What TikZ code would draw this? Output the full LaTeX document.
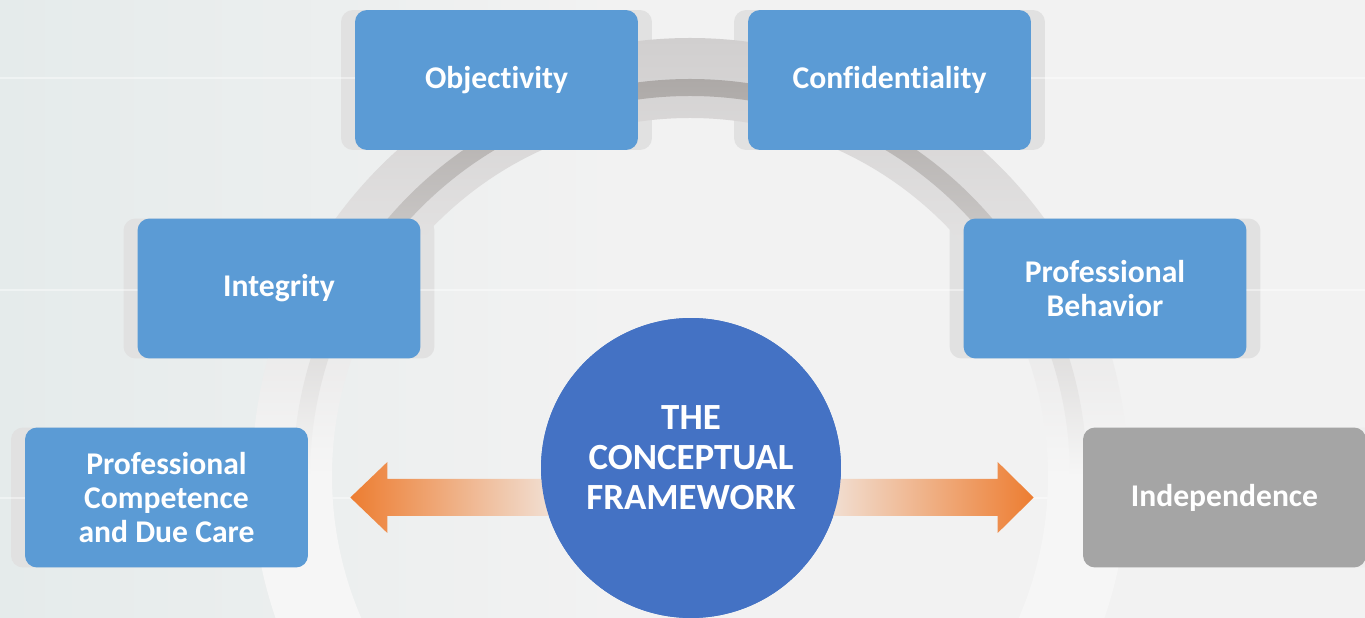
\documentclass[tikz,border=0pt]{standalone}
\usepackage{fontspec}
\setmainfont{Carlito}[Ligatures=NoCommon]
\usepackage{tikz}
\usetikzlibrary{calc}
\definecolor{bgcol}{HTML}{F2F2F2}
\definecolor{bgleft}{HTML}{E5EBEB}
\definecolor{boxblue}{HTML}{5B9BD5}
\definecolor{boxgray}{HTML}{A5A5A5}
\definecolor{hubblue}{HTML}{4472C4}
\definecolor{platecol}{HTML}{E1E1E1}
\definecolor{ringgray}{HTML}{D1CFCF}
\definecolor{ringdark}{HTML}{ADA9A7}
\definecolor{ringlight}{HTML}{F6F6F6}
\definecolor{arroworange}{HTML}{ED7D31}
\colorlet{arrowfade}{arroworange!12!bgcol}
\tikzstyle{plate}=[rectangle, rounded corners=0.24cm, fill=platecol, minimum width=6.22cm, minimum height=2.8cm, inner sep=0pt]
\tikzstyle{bluebox}=[rectangle, rounded corners=0.24cm, fill=boxblue, minimum width=5.66cm, minimum height=2.8cm, inner sep=0pt, text=white, align=center, font=\bfseries\fontsize{18}{19.3}\selectfont]
\tikzstyle{graybox}=[bluebox, fill=boxgray]
\tikzstyle{hub}=[circle, fill=hubblue, minimum size=6cm, inner sep=0pt]
\tikzstyle{hubtext}=[text=white, align=center, font=\bfseries\fontsize{21}{22.7}\selectfont]
\tikzstyle{faintline}=[draw=white, line width=1.2pt, opacity=0.4]

\begin{document}
\begin{tikzpicture}[x=0.02cm, y=0.02cm]
		   \useasboundingbox (0, 0) rectangle (1365, 618);
		   \clip (0, 0) rectangle (1365, 618);
		   % background
		   \fill[bgcol] (0, 0) rectangle (1365, 618);
		   \shade[left color=bgleft, right color=bgcol] (0, 0) rectangle (620, 618);
		   \begin{scope}
			   \node (objplate) at (496.5, 538)[plate] {};
			   \node (confplate) at (889.5, 538)[plate] {};
			   \node (integplate) at (279, 329.5)[plate] {};
			   \node (behavplate) at (1105, 329.5)[plate] {};
			   \node (competplate) at (166.5, 120.5)[plate] {};
			   \node (indepplate) at (1224.5, 120.5)[plate, fill=platecol!25!bgcol] {};
		   \end{scope}
		   \draw[faintline] (0, 540) -- (1365, 540);
		   \draw[faintline] (0, 328) -- (1365, 328);
		   \draw[faintline] (0, 120) -- (1365, 120);
		   % ring
		   \shade[even odd rule, top color=ringgray, bottom color=ringlight, middle color=ringlight]
			   (690, 142) circle [radius=438] (690, 142) circle [radius=358];
		   \shade[even odd rule, top color=ringdark, bottom color=ringlight, middle color=ringlight]
			   (690, 142) circle [radius=397] (690, 142) circle [radius=380];
		   \begin{scope}
			   \node (obj) at (496.5, 538)[bluebox] {Objectivity};
			   \node (conf) at (889.5, 538)[bluebox] {Confidentiality};
			   \node (integ) at (279, 329.5)[bluebox] {Integrity};
			   \node (behav) at (1105, 329.5)[bluebox] {Professional\\Behavior};
			   \node (compet) at (166.5, 120.5)[bluebox] {Professional\\Competence\\and Due Care};
			   \node (indep) at (1224.5, 120.5)[graybox] {Independence};
			   \node (hub) at (691, 150)[hub] {};
		   \end{scope}
		   % arrows
		   \coordinate (ltip) at ($(compet.east)+(42, 0)$);
		   \coordinate (lend) at ($(hub.center |- ltip)+(-130, 0)$);
		   \coordinate (rtip) at ($(indep.west)+(-49, 0)$);
		   \coordinate (rend) at ($(hub.center |- rtip)+(130, 0)$);
		   \shade[left color=arroworange, right color=arrowfade] (ltip) -- ++(37, 35.5) -- ++(0, -17) -- ($(lend)+(0, 18.5)$) -- ($(lend)+(0, -18.5)$) -- ($(ltip)+(37, -18.5)$) -- ++(0, -17) -- cycle;
		   \shade[left color=arrowfade, right color=arroworange] (rtip) -- ++(-36, 35.5) -- ++(0, -17) -- ($(rend)+(0, 18.5)$) -- ($(rend)+(0, -18.5)$) -- ($(rtip)+(-36, -18.5)$) -- ++(0, -17) -- cycle;
		   \node (hubcirc) at (hub.center)[hub] {};
		   \node (hubtext) at ($(hub.center)+(0, 10)$)[hubtext] {THE\\CONCEPTUAL\\FRAMEWORK};
	   \end{tikzpicture}
\end{document}
